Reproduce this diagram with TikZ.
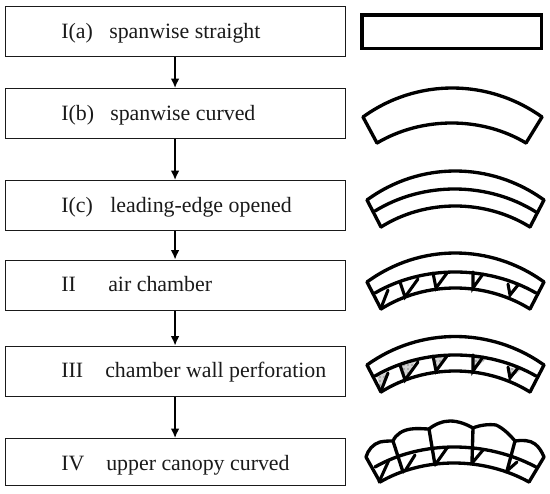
\documentclass[tikz,border=0pt]{standalone}
\usepackage{fontspec}
\setmainfont{Liberation Serif}
\usetikzlibrary{arrows.meta,patterns}
\definecolor{ink}{HTML}{1A1A1A}
\tikzset{
  stagebox/.style={draw=ink,line width=0.85pt,fill=white,minimum width=255pt,inner sep=0pt,anchor=north west},
  tag/.style={anchor=base west,inner sep=0pt,font=\fontsize{16.4pt}{18pt}\selectfont,text=ink},
  flow/.style={draw=black,line width=1.2pt,-{Latex[length=7pt,width=6.5pt]}},
  wing/.style={draw=black,line width=2.5pt,line cap=round,line join=round},
  web/.style={draw=black,line width=2.3pt,line cap=round},
  stipple/.style={fill=black!18,draw=none},
  stipdots/.style={pattern=dots,pattern color=black!80,draw=none}
}
\newcommand\bow[6]{(#1,#2) .. controls ({#1+.6*(#3-#1)},{(8*#4-#2-#6)/6}) and ({#5+.6*(#3-#5)},{(8*#4-#2-#6)/6}) .. (#5,#6)}
\newcommand\speck[6]{\fill[stipple] (#1,#2) -- (#3,#4) -- (#5,#6) -- cycle; \fill[stipdots] (#1,#2) -- (#3,#4) -- (#5,#6) -- cycle;}
\begin{document}
\begin{tikzpicture}[x=0.75pt,y=-0.75pt]
\useasboundingbox (0,0) rectangle (550,493);
% stage boxes
\node[stagebox,minimum height=37.5pt] (a) at (4.5,6) {};
\node[stagebox,minimum height=37.5pt] (b) at (4.5,88) {};
\node[stagebox,minimum height=37.5pt] (c) at (4.5,180) {};
\node[stagebox,minimum height=38pt] (d) at (4.5,259.5) {};
\node[stagebox,minimum height=38pt] (e) at (4.5,345.5) {};
\node[stagebox,minimum height=35pt] (f) at (4.5,438) {};
% labels
\node[tag] (a1) at (61,38) {I(a)};   \node[tag] (a2) at (109,38) {spanwise straight};
\node[tag] (b1) at (61,120) {I(b)};  \node[tag] (b2) at (110,120) {spanwise curved};
\node[tag] (c1) at (61,212) {I(c)};  \node[tag] (c2) at (110,212) {leading-edge opened};
\node[tag] (d1) at (61,291) {II};    \node[tag] (d2) at (108,291) {air chamber};
\node[tag] (e1) at (61,377) {III};   \node[tag] (e2) at (105,377) {chamber wall perforation};
\node[tag] (f1) at (61,470) {IV};    \node[tag] (f2) at (106,470) {upper canopy curved};
% arrows
\draw[flow] (a.south) -- (b.north);
\draw[flow] (b.south) -- (c.north);
\draw[flow] (c.south) -- (d.north);
\draw[flow] (d.south) -- (e.north);
\draw[flow] (e.south) -- (f.north);
% shape I(a)
\draw[draw=black,line width=2.7pt] (362,15) rectangle (541.5,48.5);
% shape I(b)
\draw[wing] \bow{363}{117}{452}{88}{542}{117};
\draw[wing] \bow{377}{143}{452}{123}{526}{143};
\draw[wing] (363,117) -- (377,143);
\draw[wing] (542,117) -- (526,143);
% shape I(c)
\draw[wing] \bow{367}{200}{455}{171}{544}{200};
\draw[wing] \bow{375}{211}{455}{189}{536}{212};
\draw[wing] \bow{381}{227}{455}{206}{530}{227};
\draw[wing] (367,200) -- (381,227);
\draw[wing] (544,200) -- (530,227);
% shape II
\draw[wing] \bow{367}{282}{455}{253}{544}{282};
\draw[wing] \bow{375}{293}{455}{272}{536}{293};
\draw[wing] \bow{381}{309}{455}{288}{530}{309};
\draw[wing] (367,282) -- (381,309);
\draw[wing] (544,282) -- (530,309);
\draw[web] (400,282) -- (405,297) -- (418,279);
\draw[web] (381,308) -- (388,290);
\draw[web] (433,273) -- (436,288) -- (447,273);
\draw[web] (473,272) -- (473,288) -- (483,274);
\draw[web] (508,284) -- (510,295) -- (518,285);
% shape III
\speck{400}{366}{416}{360}{405}{380}
\speck{433}{356}{447}{355}{436}{371}
\speck{473}{355}{487}{358}{473}{371}
\speck{508}{367}{521}{370}{510}{378}
\speck{377}{376}{389}{372}{381}{391}
\draw[wing] \bow{367}{365}{455}{336.5}{544}{365};
\draw[wing] \bow{375}{376}{455}{355}{536}{376};
\draw[wing] \bow{381}{392}{455}{371}{530}{392};
\draw[wing] (367,365) -- (381,392);
\draw[wing] (544,365) -- (530,392);
\draw[web] (400,365) -- (405,380) -- (418,362);
\draw[web] (381,391) -- (388,373);
\draw[web] (433,356) -- (436,371) -- (447,356);
\draw[web] (473,355) -- (473,371) -- (483,357);
\draw[web] (508,367) -- (510,378) -- (518,368);
% shape IV
\draw[wing] (366,457) .. controls (368,450) and (373,444) .. (380,442) .. controls (385,441) and (389,441) .. (393,441);
\draw[wing] (393,441) .. controls (396,434) and (403,430) .. (411,429) .. controls (418,428) and (424,429) .. (429,429);
\draw[wing] (429,429) .. controls (435,424) and (443,421) .. (450,421) .. controls (458,421) and (466,424) .. (473,428);
\draw[wing] (473,428) .. controls (480,425) and (489,424) .. (496,425) .. controls (503,428) and (510,435) .. (515,441);
\draw[wing] (515,441) .. controls (522,440) and (530,440) .. (535,444) .. controls (539,447) and (542,452) .. (544,457);
\draw[wing] \bow{375}{467}{453}{447}{536}{467};
\draw[wing] \bow{380}{482}{453}{463}{529}{482};
\draw[wing] (366,457) -- (380,482);
\draw[wing] (544,457) -- (529,482);
\draw[wing] (393,441) -- (403,472);
\draw[wing] (429,429) -- (435,465);
\draw[wing] (473,428) -- (472,462);
\draw[wing] (515,441) -- (507,471);
\draw[web] (379,482) -- (389,460);
\draw[web] (405,471) -- (415,455);
\draw[web] (435,465) -- (447,448);
\draw[web] (473,462) -- (483,450);
\draw[web] (508,470) -- (517,462);
\end{tikzpicture}
\end{document}
